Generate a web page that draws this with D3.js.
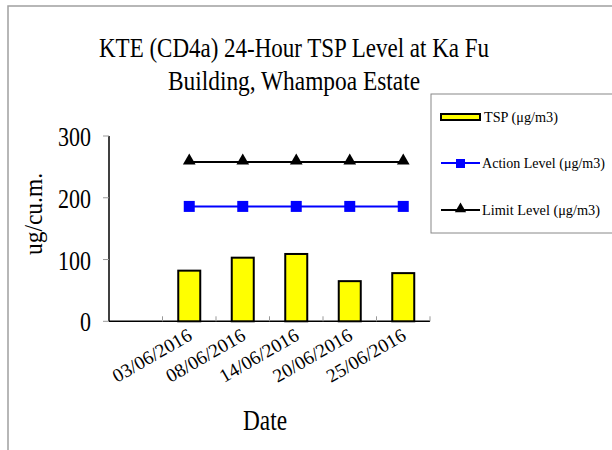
<!DOCTYPE html>
<meta charset="utf-8">
<script src="https://d3js.org/d3.v7.min.js"></script>
<style>
  body { margin: 0; background: #fff; }
  text { font-family: "Liberation Serif", "Times New Roman", serif; fill: #000; }
</style>
<div id="chart"></div>
<script>

// data
var dates = ["03/06/2016", "08/06/2016", "14/06/2016", "20/06/2016", "25/06/2016"];
var tsp = [82, 103, 109, 65, 78];
var actionLevel = [186, 186, 186, 186, 186];
var limitLevel = [258, 258, 258, 258, 258];
var yTicks = [0, 100, 200, 300];

var W = 612, H = 450;

var svg = d3.select("#chart").append("svg")
    .attr("width", W)
    .attr("height", H);

// outer chart border
svg.append("rect")
    .attr("x", 8).attr("y", 6)
    .attr("width", 700).attr("height", 600)
    .attr("fill", "none")
    .attr("stroke", "#a0a0a0")
    .attr("stroke-width", 1.5);

// title
svg.append("text")
    .attr("x", 294).attr("y", 57)
    .attr("text-anchor", "middle")
    .attr("font-size", 28)
    .attr("textLength", 390).attr("lengthAdjust", "spacingAndGlyphs")
    .text("KTE  (CD4a) 24-Hour TSP Level at Ka Fu");
svg.append("text")
    .attr("x", 294).attr("y", 90)
    .attr("text-anchor", "middle")
    .attr("font-size", 28)
    .attr("textLength", 252).attr("lengthAdjust", "spacingAndGlyphs")
    .text("Building, Whampoa Estate");

// scales - first slot stays empty like the original
var x = d3.scaleBand()
    .domain([""].concat(dates))
    .range([109, 430])
    .padding(0);

var y = d3.scaleLinear()
    .domain([0, 300])
    .range([321.3, 136]);

var g = svg.append("g");

// y axis
g.append("line")
    .attr("x1", 109).attr("x2", 109)
    .attr("y1", y(300)).attr("y2", y(0))
    .attr("stroke", "#000").attr("stroke-width", 1.5);
g.selectAll(".ytick")
  .data(yTicks)
  .enter().append("line")
    .attr("x1", 103).attr("x2", 109)
    .attr("y1", function(d){ return y(d); })
    .attr("y2", function(d){ return y(d); })
    .attr("stroke", "#999");
g.selectAll(".ylab")
  .data(yTicks)
  .enter().append("text")
    .attr("x", 91)
    .attr("y", function(d){ return y(d) + 10; })
    .attr("text-anchor", "end")
    .attr("font-size", 27)
    .attr("textLength", function(d){ return String(d).length * 11; })
    .attr("lengthAdjust", "spacingAndGlyphs")
    .text(function(d){ return d; });

// x axis
g.append("line")
    .attr("x1", 109).attr("x2", 430)
    .attr("y1", y(0)).attr("y2", y(0))
    .attr("stroke", "#000").attr("stroke-width", 1.5);
g.selectAll(".xtick")
  .data(dates)
  .enter().append("line")
    .attr("x1", function(d){ return x(d); })
    .attr("x2", function(d){ return x(d); })
    .attr("y1", y(0) - 5).attr("y2", y(0))
    .attr("stroke", "#999");
g.append("line")
    .attr("x1", 430).attr("x2", 430)
    .attr("y1", y(0) - 5).attr("y2", y(0))
    .attr("stroke", "#999");

g.selectAll(".xlab")
  .data(dates)
  .enter().append("text")
    .attr("transform", function(d){
      return "translate(" + (x(d) + x.bandwidth() / 2 + 4) + ",339) rotate(-30)";
    })
    .attr("text-anchor", "end")
    .attr("font-size", 19)
    .attr("textLength", 88).attr("lengthAdjust", "spacingAndGlyphs")
    .text(function(d){ return d; });

// axis titles
svg.append("text")
    .attr("x", 265).attr("y", 430)
    .attr("text-anchor", "middle")
    .attr("font-size", 30)
    .attr("textLength", 44).attr("lengthAdjust", "spacingAndGlyphs")
    .text("Date");
svg.append("text")
    .attr("transform", "translate(42,214) rotate(-90)")
    .attr("text-anchor", "middle")
    .attr("font-size", 26)
    .attr("textLength", 82).attr("lengthAdjust", "spacingAndGlyphs")
    .text("ug/cu.m.");

// bars
var barW = 22;
g.selectAll(".bar")
  .data(tsp)
  .enter().append("rect")
    .attr("x", function(d, i){ return x(dates[i]) + x.bandwidth() / 2 - barW / 2; })
    .attr("y", function(d){ return y(d); })
    .attr("width", barW)
    .attr("height", function(d){ return y(0) - y(d); })
    .attr("fill", "#ffff00")
    .attr("stroke", "#000")
    .attr("stroke-width", 2);

var cx = function(d, i){ return x(dates[i]) + x.bandwidth() / 2; };

// action level line
g.append("path")
    .datum(actionLevel)
    .attr("d", d3.line().x(cx).y(function(d){ return y(d); }))
    .attr("fill", "none")
    .attr("stroke", "#0000ff")
    .attr("stroke-width", 2);
g.selectAll(".sq")
  .data(actionLevel)
  .enter().append("rect")
    .attr("x", function(d, i){ return cx(d, i) - 5.5; })
    .attr("y", function(d){ return y(d) - 5.5; })
    .attr("width", 11).attr("height", 11)
    .attr("fill", "#0000ff");

// limit level line
g.append("path")
    .datum(limitLevel)
    .attr("d", d3.line().x(cx).y(function(d){ return y(d); }))
    .attr("fill", "none")
    .attr("stroke", "#000")
    .attr("stroke-width", 2);
var tri = d3.symbol().type(d3.symbolTriangle).size(70);
g.selectAll(".tri")
  .data(limitLevel)
  .enter().append("path")
    .attr("d", tri)
    .attr("transform", function(d, i){ return "translate(" + cx(d, i) + "," + (y(d) - 1) + ")"; })
    .attr("fill", "#000");

// legend
var leg = svg.append("g");
leg.append("rect")
    .attr("x", 431).attr("y", 94)
    .attr("width", 200).attr("height", 139)
    .attr("fill", "#fff")
    .attr("stroke", "#888")
    .attr("stroke-width", 1);

leg.append("rect")
    .attr("x", 441).attr("y", 114)
    .attr("width", 39).attr("height", 6)
    .attr("fill", "#ffff00")
    .attr("stroke", "#000")
    .attr("stroke-width", 2);
leg.append("text")
    .attr("x", 484).attr("y", 122)
    .attr("font-size", 15)
    .attr("textLength", 74).attr("lengthAdjust", "spacingAndGlyphs")
    .text("TSP (μg/m3)");

leg.append("line")
    .attr("x1", 441).attr("x2", 480)
    .attr("y1", 163).attr("y2", 163)
    .attr("stroke", "#0000ff").attr("stroke-width", 2);
leg.append("rect")
    .attr("x", 456).attr("y", 159)
    .attr("width", 9).attr("height", 9)
    .attr("fill", "#0000ff");
leg.append("text")
    .attr("x", 482).attr("y", 168)
    .attr("font-size", 15)
    .attr("textLength", 123).attr("lengthAdjust", "spacingAndGlyphs")
    .text("Action Level (μg/m3)");

leg.append("line")
    .attr("x1", 441).attr("x2", 480)
    .attr("y1", 210).attr("y2", 210)
    .attr("stroke", "#000").attr("stroke-width", 2);
leg.append("path")
    .attr("d", d3.symbol().type(d3.symbolTriangle).size(55))
    .attr("transform", "translate(460.5,209)")
    .attr("fill", "#000");
leg.append("text")
    .attr("x", 482).attr("y", 215)
    .attr("font-size", 15)
    .attr("textLength", 118).attr("lengthAdjust", "spacingAndGlyphs")
    .text("Limit Level (μg/m3)");

</script>
